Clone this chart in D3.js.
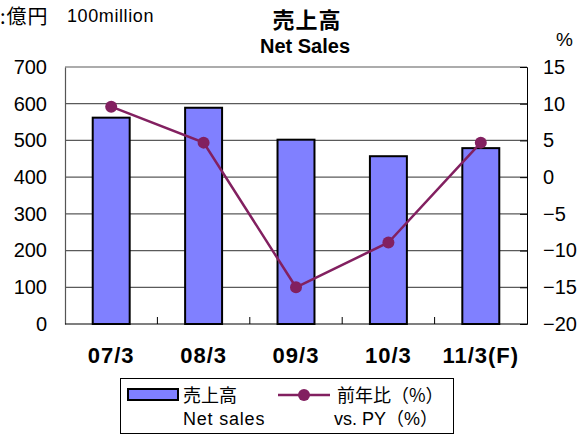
<!DOCTYPE html>
<html>
<head>
<meta charset="utf-8">
<script src="https://cdn.jsdelivr.net/npm/d3@7"></script>
<style>
  body { margin: 0; background: #fff; }
  svg text { font-family: "Liberation Sans", Arial, "Noto Sans CJK JP", sans-serif; fill: #000; }
  .jp { font-family: "Noto Sans CJK JP", sans-serif; }
</style>
</head>
<body>
<div class="svg"></div>
<script>
// data
var categories = ["07/3", "08/3", "09/3", "10/3", "11/3(F)"];
var salesValues = [562, 589, 502, 457, 479];
var yoyValues = [9.6, 4.7, -15.0, -8.9, 4.7];
var leftTicks = [0, 100, 200, 300, 400, 500, 600, 700];
var rightTicks = [-20, -15, -10, -5, 0, 5, 10, 15];

var outerWidth = 581, outerHeight = 435;
var margin = {top: 67, right: 54, bottom: 111, left: 65},
    width = outerWidth - margin.left - margin.right,
    height = outerHeight - margin.top - margin.bottom;

var outer = d3.select(".svg").append("svg")
    .attr("width", outerWidth)
    .attr("height", outerHeight);

var svg = outer.append("g")
    .attr("transform", "translate(" + margin.left + "," + margin.top + ")");

var x = d3.scaleBand().domain(categories).range([0, width]);
var y = d3.scaleLinear().domain([0, 700]).range([height, 0]);
var y2 = d3.scaleLinear().domain([-20, 15]).range([height, 0]);

// gridlines
svg.append("g")
    .selectAll("line")
    .data(leftTicks.slice(1))
    .join("line")
    .attr("x1", 0).attr("x2", width)
    .attr("y1", function(d){ return y(d); })
    .attr("y2", function(d){ return y(d); })
    .attr("stroke", "#5a5a5a")
    .attr("stroke-width", 1.2);

// left axis
var yAxis = d3.axisLeft(y).tickValues(leftTicks).tickSize(0).tickPadding(18);
svg.append("g").call(yAxis)
    .call(function(g){ g.select(".domain").attr("stroke", "#555").attr("stroke-width", 1.2); })
    .selectAll("text").attr("font-size", 20);

// right axis
var yAxis2 = d3.axisRight(y2).tickValues(rightTicks).tickSize(-7).tickPadding(16)
    .tickFormat(function(d){ return d < 0 ? "\u2212" + Math.abs(d) : d; });
svg.append("g").attr("transform", "translate(" + width + ",0)").call(yAxis2)
    .call(function(g){
      g.select(".domain").attr("stroke", "#000").attr("stroke-width", 1);
      g.selectAll(".tick line").attr("stroke", "#000");
    })
    .selectAll("text").attr("font-size", 20);

// bottom axis
svg.append("line")
    .attr("x1", 0).attr("x2", width)
    .attr("y1", height).attr("y2", height)
    .attr("stroke", "#000").attr("stroke-width", 1.2);
svg.append("g")
    .selectAll("line")
    .data(categories.slice(1))
    .join("line")
    .attr("x1", function(d){ return x(d); })
    .attr("x2", function(d){ return x(d); })
    .attr("y1", height).attr("y2", height - 7)
    .attr("stroke", "#000");
svg.append("g")
    .selectAll("text")
    .data(categories)
    .join("text")
    .attr("x", function(d){ return x(d) + x.bandwidth() / 2; })
    .attr("y", height + 39)
    .attr("text-anchor", "middle")
    .attr("font-size", 22)
    .attr("font-weight", "bold")
    .attr("letter-spacing", 1)
    .text(function(d){ return d; });

// bars
var barW = x.bandwidth() * 0.4;
svg.append("g")
    .selectAll("rect")
    .data(salesValues)
    .join("rect")
    .attr("x", function(d, i){ return x(categories[i]) + (x.bandwidth() - barW) / 2; })
    .attr("y", function(d){ return y(d); })
    .attr("width", barW)
    .attr("height", function(d){ return height - y(d); })
    .attr("fill", "#8080ff")
    .attr("stroke", "#000")
    .attr("stroke-width", 2);

// line
var line = d3.line()
    .x(function(d, i){ return x(categories[i]) + x.bandwidth() / 2; })
    .y(function(d){ return y2(d); });
svg.append("path")
    .attr("d", line(yoyValues))
    .attr("fill", "none")
    .attr("stroke", "#822060")
    .attr("stroke-width", 2.5);
svg.append("g")
    .selectAll("circle")
    .data(yoyValues)
    .join("circle")
    .attr("cx", function(d, i){ return x(categories[i]) + x.bandwidth() / 2; })
    .attr("cy", function(d){ return y2(d); })
    .attr("r", 6)
    .attr("fill", "#822060");

// titles
outer.append("text").attr("class", "jp")
    .attr("x", 307).attr("y", 28)
    .attr("text-anchor", "middle")
    .attr("font-size", 22).attr("font-weight", "bold")
    .attr("letter-spacing", 1)
    .text("売上高");
outer.append("text")
    .attr("x", 305).attr("y", 53)
    .attr("text-anchor", "middle")
    .attr("font-size", 20).attr("font-weight", "bold")
    .text("Net Sales");
outer.append("text").attr("class", "jp")
    .attr("x", 0).attr("y", 24)
    .attr("font-size", 20)
    .attr("letter-spacing", 1)
    .text(":億円");
outer.append("text")
    .attr("x", 67).attr("y", 22)
    .attr("font-size", 18)
    .attr("letter-spacing", 0.6)
    .text("100million");
outer.append("text")
    .attr("x", 556).attr("y", 46)
    .attr("font-size", 19)
    .text("%");

// legend
var legend = outer.append("g");
legend.append("rect")
    .attr("x", 120.5).attr("y", 378.5)
    .attr("width", 333).attr("height", 55)
    .attr("fill", "#fff").attr("stroke", "#000");
legend.append("rect")
    .attr("x", 128).attr("y", 389)
    .attr("width", 50).attr("height", 11)
    .attr("fill", "#8080ff").attr("stroke", "#000").attr("stroke-width", 2);
legend.append("text").attr("class", "jp")
    .attr("x", 183).attr("y", 402).attr("font-size", 18).text("売上高");
legend.append("text")
    .attr("x", 183).attr("y", 425).attr("font-size", 18).attr("letter-spacing", 0.8).text("Net sales");
legend.append("line")
    .attr("x1", 278).attr("x2", 330).attr("y1", 395).attr("y2", 395)
    .attr("stroke", "#822060").attr("stroke-width", 2.5);
legend.append("circle")
    .attr("cx", 304).attr("cy", 395).attr("r", 6).attr("fill", "#822060");
legend.append("text").attr("class", "jp")
    .attr("x", 337).attr("y", 402).attr("font-size", 18).text("前年比（%）");
legend.append("text")
    .attr("x", 334).attr("y", 425).attr("font-size", 18).text("vs. PY（%）");
</script>
</body>
</html>
